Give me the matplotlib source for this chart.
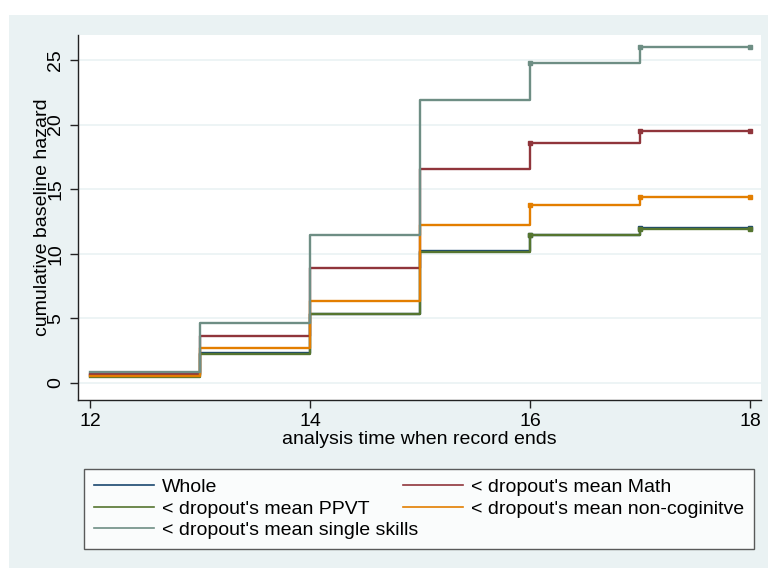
import matplotlib.pyplot as plt
from matplotlib.patches import Rectangle

plt.rcParams['font.family'] = ['Liberation Sans', 'DejaVu Sans']

# analysis time (stairstep, last value repeated to end at 18)
t = [12, 13, 14, 15, 16, 17, 18]

whole = [0.6, 2.3, 5.35, 10.2, 11.45, 12.0, 12.0]
math_ = [0.67, 3.66, 8.87, 16.55, 18.6, 19.5, 19.5]
ppvt = [0.45, 2.25, 5.3, 10.15, 11.42, 11.95, 11.95]
noncog = [0.56, 2.68, 6.37, 12.2, 13.75, 14.4, 14.4]
single = [0.85, 4.67, 11.45, 21.9, 24.8, 26.0, 26.0]

labels = ["Whole", "< dropout's mean Math", "< dropout's mean PPVT",
          "< dropout's mean non-coginitve", "< dropout's mean single skills"]
colors = ['#1a476f', '#90353b', '#55752f', '#e37e00', '#6e8e84']
series = [whole, math_, ppvt, noncog, single]

bg = '#eaf2f3'
fs = 14

fig = plt.figure(figsize=(7.68, 5.68), dpi=100)
# Stata-style outer background
fig.patches.append(Rectangle((9 / 768, 0), 1 - 9 / 768, 1 - 15 / 568,
                             transform=fig.transFigure, facecolor=bg,
                             edgecolor='none', zorder=-5))

ax = fig.add_axes([78 / 768, 1 - 400 / 568, 683 / 768, 365 / 568])
ax.set_facecolor('white')

lines = []
for y, c, lab in zip(series, colors, labels):
    ln, = ax.step(t, y, where='post', color=c, lw=1.7, label=lab,
                  marker='s', markersize=2.2, markevery=[4, 5, 6])
    lines.append(ln)

ax.set_xlim(11.89, 18.1)
ax.set_ylim(-1.32, 26.93)
ax.set_xticks([12, 14, 16, 18])
ax.set_yticks([0, 5, 10, 15, 20, 25])
ax.grid(axis='y', color=bg, lw=1.2)
ax.set_axisbelow(True)

for s in ['top', 'right']:
    ax.spines[s].set_visible(False)
for s in ['left', 'bottom']:
    ax.spines[s].set_color('#222222')
    ax.spines[s].set_linewidth(1.0)

ax.tick_params(axis='both', direction='out', length=6, width=1,
               color='#222222', labelsize=fs)
ax.tick_params(axis='y', pad=4)
ax.tick_params(axis='x', pad=3)
for lbl in ax.get_yticklabels():
    lbl.set_rotation(90)
    lbl.set_va('center')

ax.set_xlabel('analysis time when record ends', fontsize=fs, labelpad=1)
ax.set_ylabel('cumulative baseline hazard', fontsize=fs, va='center')
ax.yaxis.set_label_coords((43 - 78) / 683, 0.5)

# row-wise order like Stata: Whole, Math / PPVT, non-cog / single
order = [0, 2, 4, 1, 3]
leg = ax.legend([lines[i] for i in order], [labels[i] for i in order],
                loc='lower left', ncol=2, mode='expand', borderaxespad=0,
                bbox_to_anchor=(84 / 768, 1 - 549 / 568, 670 / 768, 71 / 568),
                bbox_transform=fig.transFigure, fontsize=fs,
                frameon=True, fancybox=False, handlelength=3.1,
                handletextpad=0.4, borderpad=0.5, labelspacing=0.2,
                columnspacing=0.5)
leg.get_frame().set_edgecolor('#333333')
leg.get_frame().set_linewidth(1.0)
for h in leg.legend_handles:
    h.set_marker('')
    h.set_linewidth(1.2)

fig.savefig('out.png', dpi=100)
